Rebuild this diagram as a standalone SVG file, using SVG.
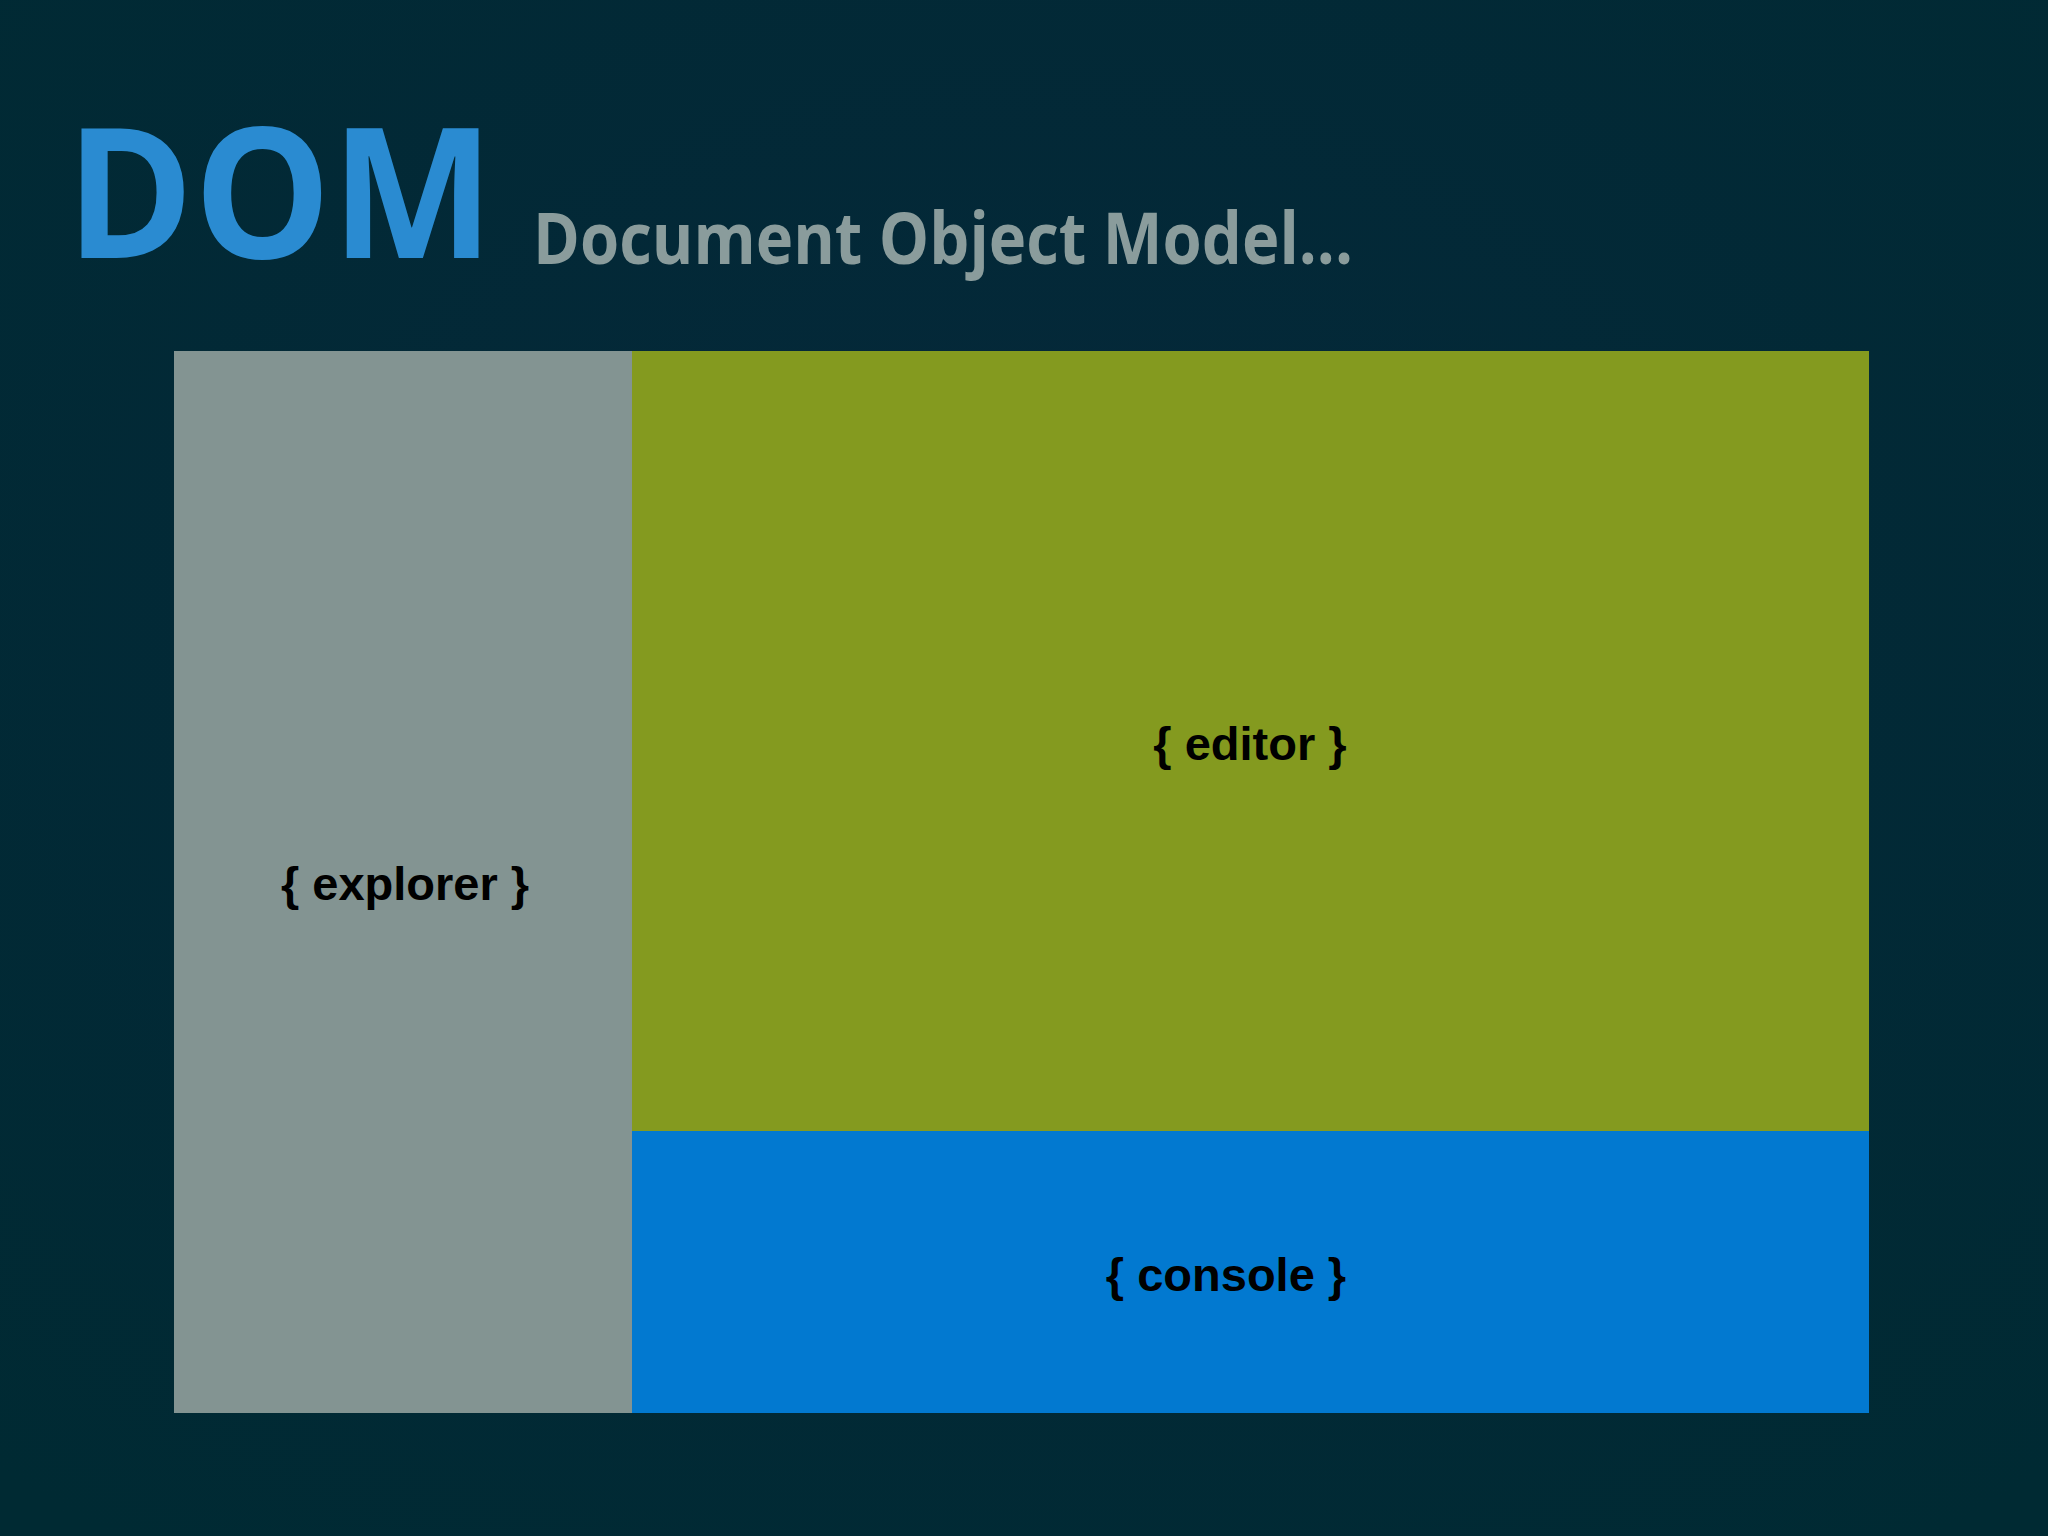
<svg xmlns="http://www.w3.org/2000/svg" width="2048" height="1536" viewBox="0 0 2048 1536">
<defs>
<radialGradient id="bg" cx="50%" cy="40%" r="75%">
<stop offset="0" stop-color="#05283a"/>
<stop offset="1" stop-color="#002a33"/>
</radialGradient>
<style>
.lbl{font-family:"Liberation Sans",Arial,sans-serif;font-weight:bold;font-size:47px;fill:#000;text-anchor:middle}
</style>
</defs>
<rect width="2048" height="1536" fill="url(#bg)"/>
<g id="title">
<text x="66" y="258" font-family="'Open Sans','Noto Sans',sans-serif" font-weight="bold" font-size="182" fill="#2a8bd1" textLength="428" lengthAdjust="spacingAndGlyphs">DOM</text>
<text x="533" y="264" font-family="'Open Sans','Noto Sans',sans-serif" font-weight="bold" font-size="71" fill="#8a9c9c" textLength="820" lengthAdjust="spacingAndGlyphs">Document Object Model...</text>
</g>
<g id="explorer">
<rect x="174" y="351" width="458" height="1062" fill="#839492"/>
<text class="lbl" x="405" y="900">{ explorer }</text>
</g>
<g id="editor">
<rect x="632" y="351" width="1237" height="780" fill="#849a1f"/>
<text class="lbl" x="1250" y="760">{ editor }</text>
</g>
<g id="console">
<rect x="632" y="1131" width="1237" height="282" fill="#0279d0"/>
<text class="lbl" x="1226" y="1291">{ console }</text>
</g>
<g id="connectors"/>
</svg>
